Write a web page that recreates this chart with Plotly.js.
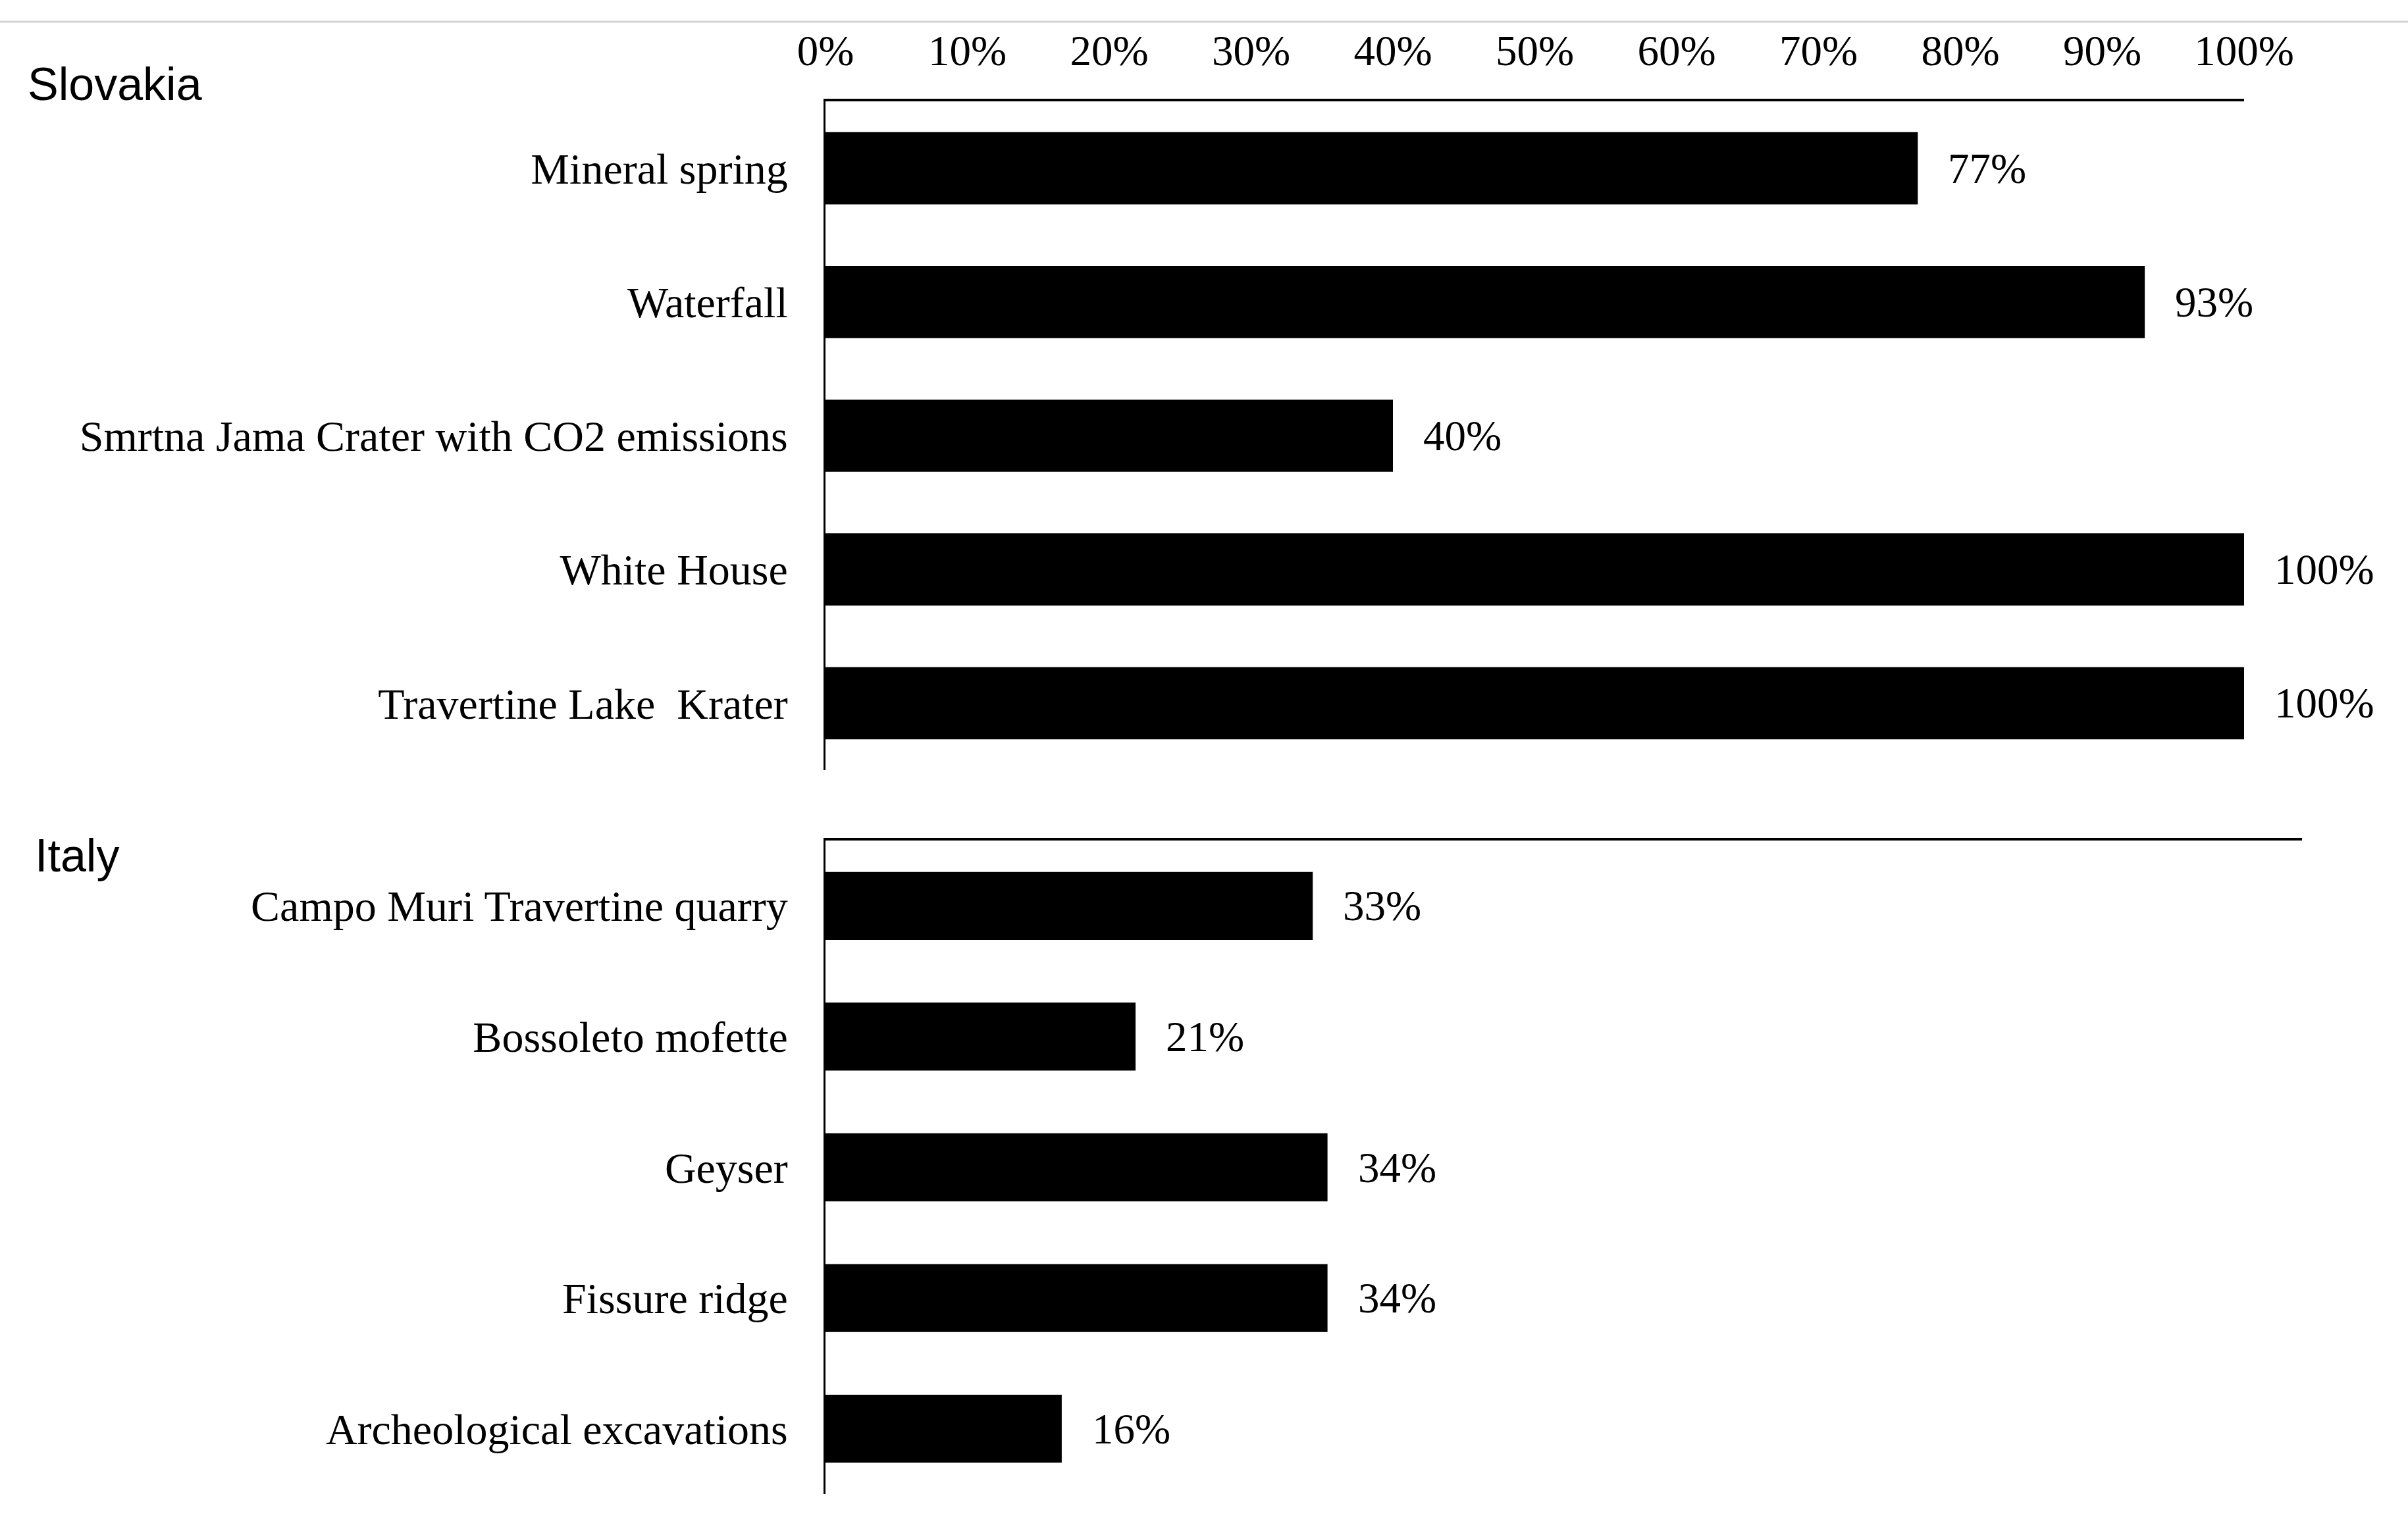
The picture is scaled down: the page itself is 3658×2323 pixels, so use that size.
<!DOCTYPE html>
<html>
<head>
<meta charset="utf-8">
<script src="https://cdn.plot.ly/plotly-3.0.1.min.js"></script>
<style>html,body{margin:0;padding:0;background:#fff;}#chart{width:3658px;height:2323px;}</style>
</head>
<body>
<div id="chart"></div>
<script>
const slovakiaSites = ["Mineral spring", "Waterfall", "Smrtna Jama Crater with CO2 emissions", "White House", "Travertine Lake\u00a0 Krater"];
const slovakiaValues = [0.77, 0.93, 0.40, 1.00, 1.00];
const italySites = ["Campo Muri Travertine quarry", "Bossoleto mofette", "Geyser", "Fissure ridge", "Archeological excavations"];
const italyValues = [0.33, 0.21, 0.34, 0.34, 0.16];
const tickValues = [0, 0.1, 0.2, 0.3, 0.4, 0.5, 0.6, 0.7, 0.8, 0.9, 1.0];
const groupNames = ["Slovakia", "Italy"];

const W = 3658, H = 2323;
const serif = "Liberation Serif, Times New Roman, serif";
const sans = "Liberation Sans, Arial, sans-serif";

const traces = [
  {type: 'bar', orientation: 'h', y: slovakiaSites, x: slovakiaValues, xaxis: 'x', yaxis: 'y',
   marker: {color: '#000'}, width: 0.54, hoverinfo: 'skip'},
  {type: 'bar', orientation: 'h', y: italySites, x: italyValues, xaxis: 'x2', yaxis: 'y2',
   marker: {color: '#000'}, width: 0.52, hoverinfo: 'skip'}
];

const annotations = [];
slovakiaSites.forEach((s, i) => annotations.push({
  xref: 'x', yref: 'y', x: slovakiaValues[i], y: s, text: Math.round(slovakiaValues[i]*100) + '%',
  showarrow: false, xanchor: 'left', xshift: 44, font: {family: serif, size: 65, color: '#000'}
}));
italySites.forEach((s, i) => annotations.push({
  xref: 'x2', yref: 'y2', x: italyValues[i], y: s, text: Math.round(italyValues[i]*100) + '%',
  showarrow: false, xanchor: 'left', xshift: 44, font: {family: serif, size: 65, color: '#000'}
}));
annotations.push({xref: 'paper', yref: 'paper', x: 40/W, y: 1 - 128/H, xanchor: 'left', yanchor: 'middle',
  text: groupNames[0], showarrow: false, font: {family: sans, size: 70, color: '#000'}});
annotations.push({xref: 'paper', yref: 'paper', x: 51/W, y: 1 - 1300/H, xanchor: 'left', yanchor: 'middle',
  text: groupNames[1], showarrow: false, font: {family: sans, size: 70, color: '#000'}});

const yCommon = {
  type: 'category', range: [4.5, -0.5], showline: true, linecolor: '#000', linewidth: 3,
  showgrid: false, zeroline: false, ticks: '', ticklabelstandoff: 41,
  tickfont: {family: serif, size: 66, color: '#000'}
};

const layout = {
  width: W, height: H, margin: {l: 0, r: 0, t: 0, b: 0},
  paper_bgcolor: '#fff', plot_bgcolor: '#fff', showlegend: false, bargap: 0.46,
  xaxis: {domain: [1254/W, 3409/W], range: [0, 1], side: 'top', anchor: 'y',
    showline: true, linecolor: '#000', linewidth: 4, showgrid: false, zeroline: false,
    tickvals: tickValues, tickformat: '.0%', ticks: '', ticklabelstandoff: 25,
    tickfont: {family: serif, size: 65, color: '#000'}},
  yaxis: Object.assign({}, yCommon, {domain: [1 - 1170/H, 1 - 154/H], anchor: 'x'}),
  xaxis2: {domain: [1254/W, 3497/W], range: [0, 1], side: 'top', anchor: 'y2',
    showline: true, linecolor: '#000', linewidth: 4, showgrid: false, zeroline: false,
    showticklabels: false, ticks: ''},
  yaxis2: Object.assign({}, yCommon, {domain: [1 - 2270/H, 1 - 1277/H], anchor: 'x2'}),
  annotations: annotations,
  shapes: [{type: 'line', xref: 'paper', yref: 'paper', x0: 0, x1: 1, y0: 1 - 33/H, y1: 1 - 33/H,
    line: {color: '#d4d4d4', width: 3}}]
};

Plotly.newPlot('chart', traces, layout, {displayModeBar: false, staticPlot: true});
</script>
</body>
</html>
